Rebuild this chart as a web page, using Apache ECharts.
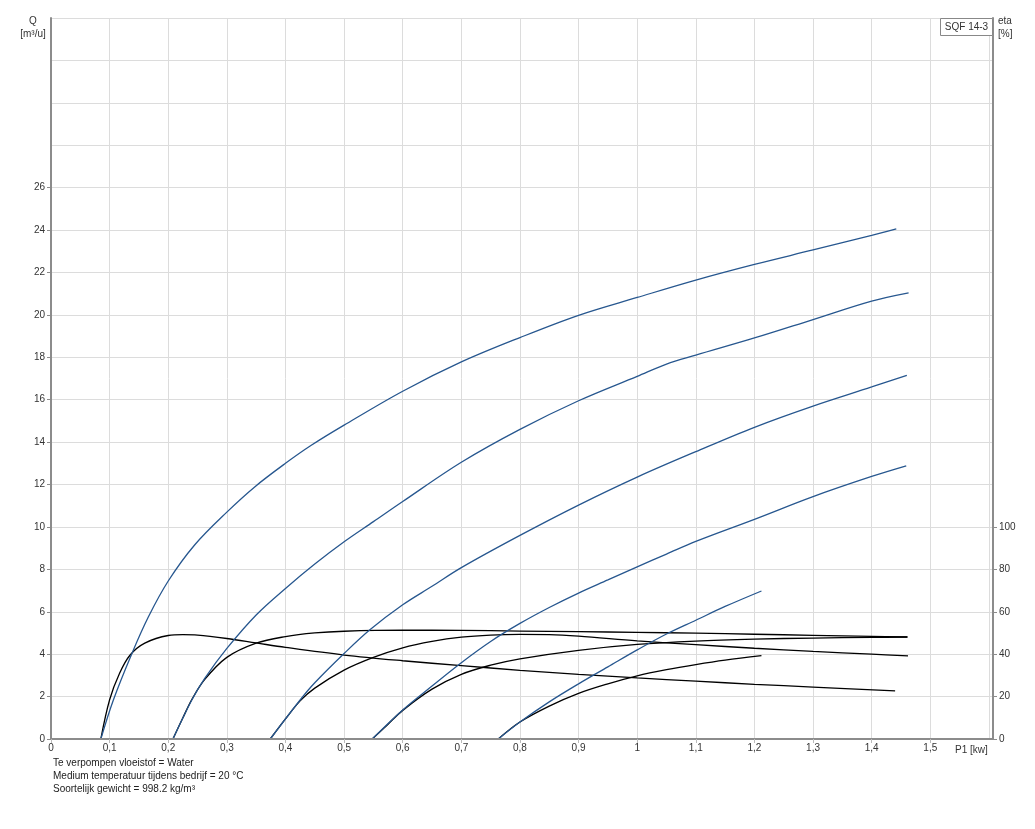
<!DOCTYPE html>
<html>
<head>
<meta charset="utf-8">
<script src="https://cdn.jsdelivr.net/npm/echarts@6/dist/echarts.min.js"></script>
<style>
html,body{margin:0;padding:0;background:#fff;}
#chart{width:1035px;height:829px;}
</style>
</head>
<body>
<div id="chart"></div>
<script>
// P1 [kW] vs Q [m3/u] for each head (blue)
const q5  = [[0.085,0],[0.1064,1.84],[0.1377,4.01],[0.166,5.75],[0.2,7.45],[0.245,9.15],[0.3,10.7],[0.348,11.9],[0.4,13.0],[0.444,13.85],[0.5,14.8],[0.6,16.4],[0.7,17.78],[0.8,18.93],[0.9,19.98],[1.0,20.82],[1.1,21.64],[1.2,22.38],[1.3,23.06],[1.4,23.75],[1.442,24.06]];
const q10 = [[0.208,0],[0.24,1.83],[0.262,2.85],[0.3,4.27],[0.35,5.85],[0.4,7.1],[0.45,8.25],[0.5,9.3],[0.55,10.25],[0.6,11.2],[0.7,13.05],[0.8,14.6],[0.9,15.95],[1.0,17.1],[1.05,17.68],[1.1,18.1],[1.2,18.91],[1.3,19.78],[1.4,20.65],[1.463,21.04]];
const q15 = [[0.374,0],[0.425,1.84],[0.45,2.65],[0.5,4.03],[0.544,5.15],[0.6,6.33],[0.65,7.2],[0.7,8.08],[0.8,9.6],[0.9,11.03],[1.0,12.35],[1.1,13.55],[1.2,14.7],[1.3,15.7],[1.4,16.6],[1.46,17.15]];
const q20 = [[0.548,0],[0.6,1.37],[0.65,2.5],[0.7,3.6],[0.75,4.6],[0.8,5.45],[0.85,6.2],[0.9,6.88],[0.95,7.5],[1.0,8.12],[1.05,8.72],[1.1,9.32],[1.2,10.36],[1.3,11.43],[1.4,12.38],[1.459,12.88]];
const q25 = [[0.763,0],[0.8,0.8],[0.85,1.75],[0.9,2.6],[0.95,3.4],[1.0,4.2],[1.05,4.95],[1.1,5.6],[1.15,6.25],[1.212,6.98]];
// P1 [kW] vs eta [%] for each head (black)
const e5  = [[0.085,0],[0.1,18.5],[0.117,31],[0.135,39.6],[0.16,45.2],[0.2,48.8],[0.225,49.2],[0.25,49],[0.3,47.4],[0.35,45.3],[0.4,43.2],[0.5,39.6],[0.6,36.9],[0.7,34.6],[0.8,32.4],[0.9,30.5],[1.0,28.8],[1.1,27.3],[1.2,25.8],[1.3,24.5],[1.44,22.7]];
const e10 = [[0.208,0],[0.225,10],[0.24,18.5],[0.262,28],[0.3,38.5],[0.35,45.2],[0.4,48.3],[0.45,50],[0.5,50.8],[0.6,51.3],[0.7,51.2],[0.8,50.9],[0.9,50.6],[1.0,50.3],[1.1,49.9],[1.2,49.4],[1.3,48.9],[1.4,48.4],[1.461,48.1]];
const e15 = [[0.374,0],[0.4,9.5],[0.425,18],[0.45,24],[0.5,32.5],[0.55,38.5],[0.6,43],[0.65,46],[0.7,48],[0.75,49],[0.8,49.3],[0.85,49.2],[0.9,48.5],[1.0,46.3],[1.1,44.5],[1.2,42.8],[1.3,41.3],[1.4,40],[1.462,39.2]];
const e20 = [[0.548,0],[0.575,7],[0.6,13.5],[0.65,23.5],[0.7,30.5],[0.75,34.8],[0.8,37.8],[0.9,41.8],[1.0,44.6],[1.1,46.2],[1.2,47.1],[1.3,47.6],[1.4,47.9],[1.461,48.1]];
const e25 = [[0.763,0],[0.8,8],[0.85,15.5],[0.9,21.5],[0.95,26],[1.0,29.8],[1.05,32.7],[1.1,35.1],[1.15,37.2],[1.212,39.3]];

const headLabels = ['5','10','15','20','25 m'];
const flowSeries = [q5,q10,q15,q20,q25];
const etaSeries = [e5,e10,e15,e20,e25];

const qTicks = [0,2,4,6,8,10,12,14,16,18,20,22,24,26];
const etaTicks = [0,20,40,60,80,100];
const pTicks = [0,0.1,0.2,0.3,0.4,0.5,0.6,0.7,0.8,0.9,1.0,1.1,1.2,1.3,1.4,1.5];

const noteLines = ['Te verpompen vloeistof = Water','Medium temperatuur tijdens bedrijf = 20 °C','Soortelijk gewicht = 998.2 kg/m³'];

const FONT = '"Liberation Sans", Arial, sans-serif';
const BLUE = '#27578f';
const AXIS = '#8c8c8c';
const GRID = '#dcdcdc';

function withEndLabel(data, text){
  return data.map((d,i)=> i===data.length-1 ? {value:d, label:{show:true, position:'top', distance:3, formatter:text, color:'#222', fontSize:10, fontFamily:FONT}} : d);
}

const series = [];
flowSeries.forEach((d,i)=>{
  series.push({type:'line', xAxisIndex:0, yAxisIndex:0, data:withEndLabel(d, headLabels[i]), smooth:0.35, symbol:'none', showSymbol:false,
    lineStyle:{color:BLUE, width:1.3}, silent:true, z:3});
});
etaSeries.forEach((d)=>{
  series.push({type:'line', xAxisIndex:0, yAxisIndex:1, data:d, smooth:0.35, symbol:'none', showSymbol:false,
    lineStyle:{color:'#000', width:1.3}, silent:true, z:2});
});

const chart = echarts.init(document.getElementById('chart'), null, {renderer:'canvas'});
chart.setOption({
  animation:false,
  backgroundColor:'#fff',
  textStyle:{fontFamily:FONT},
  grid:{left:51, right:42, top:18, bottom:90, containLabel:false},
  xAxis:[
    {type:'value', min:0, max:1.607, interval:0.1, position:'bottom',
      axisLine:{show:true, onZero:false, lineStyle:{color:AXIS, width:2}},
      axisTick:{show:true, length:4, lineStyle:{color:'#bbb'}, customValues:pTicks},
      axisLabel:{margin:4, fontSize:10, color:'#333', fontFamily:FONT, customValues:pTicks,
        formatter:v=> (Math.round(v*10)/10).toString().replace('.',',')},
      splitLine:{show:false}, z:5},
    {type:'value', min:0, max:1.607, interval:0.1, position:'top',
      axisLine:{show:false}, axisTick:{show:false}, axisLabel:{show:false},
      splitLine:{show:true, lineStyle:{color:GRID, width:1}}}
  ],
  yAxis:[
    {type:'value', min:0, max:34, interval:2, position:'left',
      axisLine:{show:true, onZero:false, lineStyle:{color:AXIS, width:2}},
      axisTick:{show:true, length:4, lineStyle:{color:AXIS}, customValues:qTicks},
      axisLabel:{margin:6, fontSize:10, color:'#333', fontFamily:FONT, customValues:qTicks, formatter:v=> String(v)},
      splitLine:{show:false}, z:5},
    {type:'value', min:0, max:340, interval:20, position:'right',
      axisLine:{show:true, onZero:false, lineStyle:{color:AXIS, width:2}},
      axisTick:{show:true, length:4, lineStyle:{color:AXIS}, customValues:etaTicks},
      axisLabel:{margin:6, fontSize:10, color:'#333', fontFamily:FONT, customValues:etaTicks, formatter:v=> String(v)},
      splitLine:{show:false}, z:5},
    {type:'value', min:0, max:34, interval:2, position:'left',
      axisLine:{show:false}, axisTick:{show:false}, axisLabel:{show:false},
      splitLine:{show:true, lineStyle:{color:GRID, width:1}}}
  ],
  graphic:[
    {type:'text', x:33, y:16, style:{text:'Q', fill:'#333', font:'10px '+FONT, textAlign:'center'}},
    {type:'text', x:33, y:29, style:{text:'[m³/u]', fill:'#333', font:'10px '+FONT, textAlign:'center'}},
    {type:'text', x:998, y:16, style:{text:'eta', fill:'#333', font:'10px '+FONT, textAlign:'left'}},
    {type:'text', x:998, y:29, style:{text:'[%]', fill:'#333', font:'10px '+FONT, textAlign:'left'}},
    {type:'rect', shape:{x:940.5, y:18.5, width:52, height:17}, style:{fill:'#fff', stroke:'#888', lineWidth:1}, z:10},
    {type:'text', x:966.5, y:22, style:{text:'SQF 14-3', fill:'#333', font:'10px '+FONT, textAlign:'center'}, z:11},
    {type:'text', x:955, y:745, style:{text:'P1 [kw]', fill:'#333', font:'10px '+FONT, textAlign:'left'}},
    {type:'text', x:53, y:758, style:{text:noteLines[0], fill:'#222', font:'10px '+FONT}},
    {type:'text', x:53, y:771, style:{text:noteLines[1], fill:'#222', font:'10px '+FONT}},
    {type:'text', x:53, y:784, style:{text:noteLines[2], fill:'#222', font:'10px '+FONT}}
  ],
  series:series
});
</script>
</body>
</html>
